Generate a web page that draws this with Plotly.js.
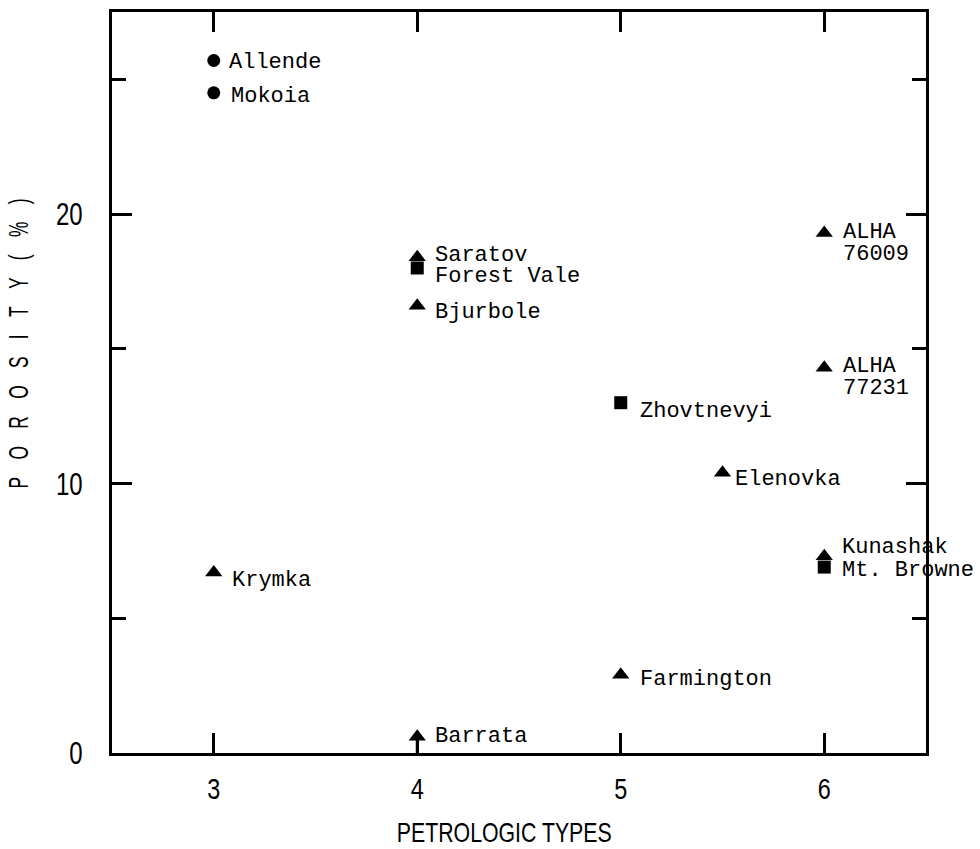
<!DOCTYPE html>
<html>
<head>
<meta charset="utf-8">
<script src="https://cdn.plot.ly/plotly-3.0.1.min.js"></script>
<style>
  html, body { margin: 0; padding: 0; background: #fff; }
  #chart { width: 980px; height: 849px; }
</style>
</head>
<body>
<div id="chart"></div>
<script>
// ---- data ----
const meteorites = ["Allende", "Mokoia", "Krymka", "Saratov", "Forest Vale", "Bjurbole", "Barrata",
                    "Zhovtnevyi", "Farmington", "Elenovka", "ALHA<br>76009", "ALHA<br>77231", "Kunashak", "Mt. Browne"];
const petrologicType = [3, 3, 3, 4, 4, 4, 4, 5, 5, 5.5, 6, 6, 6, 6];
const porosity = [25.7, 24.5, 6.7, 18.4, 18.0, 16.6, 0.6, 13.0, 2.9, 10.4, 19.3, 14.3, 7.3, 6.9];
const group = ["C", "C", "L", "L", "H", "L", "L", "H", "L", "L", "L", "L", "L", "H"];
const withStem = ["Barrata"];
const xTicks = [3, 4, 5, 6];
const yTicks = [0, 10, 20];

// ---- label placement styles (pixels) ----
const labelDx = [14, 16, 17, 17, 17, 17, 17, 18, 18, 11, 18, 18, 17, 17];
const labelDy = [2, 4, 8, -2, 9, 7, 0, 9, 5, 7, 0, -1, -9, 3];

const symbols = { C: "circle", L: "triangle-up", H: "square" };
const sizes = { C: 13, L: 15, H: 13 };
const traces = ["L", "H", "C"].map(g => {
  const idx = group.map((v, i) => v === g ? i : -1).filter(i => i >= 0);
  return {
    type: "scatter",
    mode: "markers",
    x: idx.map(i => petrologicType[i]),
    y: idx.map(i => porosity[i]),
    marker: { symbol: symbols[g], size: sizes[g], color: "#000", line: { width: 0 } },
    error_y: {
      type: "data", symmetric: false,
      array: idx.map(() => 0),
      arrayminus: idx.map(i => withStem.includes(meteorites[i]) ? porosity[i] : 0),
      color: "#000", thickness: 3, width: 0
    },
    hoverinfo: "skip",
    showlegend: false,
    cliponaxis: false
  };
});

const monoFont = { family: "'Liberation Mono', 'Courier New', monospace", size: 22, color: "#000" };
const sansFont = "'Liberation Sans', Arial, sans-serif";

const annotations = [];
meteorites.forEach((name, i) => {
  name.split("<br>").forEach((line, k) => {
    annotations.push({
      x: petrologicType[i], y: porosity[i], xref: "x", yref: "y",
      text: line, showarrow: false, xanchor: "left", yanchor: "middle",
      xshift: labelDx[i], yshift: -(labelDy[i] + k * 22),
      font: monoFont, borderpad: 0
    });
  });
});
const titleStart = annotations.length;
annotations.push({
  xref: "paper", yref: "paper", x: 0.4828, y: 0, yshift: -80,
  xanchor: "center", yanchor: "middle", showarrow: false, borderpad: 0,
  text: "PETROLOGIC TYPES", font: { family: sansFont, size: 27, color: "#000" }
});
annotations.push({
  xref: "paper", yref: "paper", x: 0, xshift: -93, y: 0.553,
  xanchor: "center", yanchor: "middle", showarrow: false, textangle: -90,
  text: "P\u2003O\u2003R\u2003O\u2003S\u2003I\u2003T\u2003Y\u2003(\u2003%\u2003)",
  font: { family: sansFont, size: 27, color: "#000" }
});

const layout = {
  width: 980, height: 849,
  margin: { l: 112, r: 54, t: 12, b: 96 },
  paper_bgcolor: "#fff", plot_bgcolor: "#fff",
  showlegend: false,
  xaxis: {
    range: [2.5, 6.5], tickvals: xTicks, ticktext: xTicks.map(String),
    showgrid: false, zeroline: false,
    showline: true, linecolor: "#000", linewidth: 3, mirror: "ticks",
    ticks: "inside", ticklen: 20, tickwidth: 3, tickcolor: "#000",
    ticklabelstandoff: 7,
    tickfont: { family: sansFont, size: 30, color: "#000" }
  },
  yaxis: {
    range: [0, 27.5], tickvals: yTicks, ticktext: yTicks.map(String),
    showgrid: false, zeroline: false,
    showline: true, linecolor: "#000", linewidth: 3, mirror: "ticks",
    ticks: "inside", ticklen: 20, tickwidth: 3, tickcolor: "#000",
    ticklabelstandoff: 20,
    minor: { tickvals: [5, 15, 25], ticks: "inside", ticklen: 14, tickwidth: 3, tickcolor: "#000", showgrid: false },
    tickfont: { family: sansFont, size: 32, color: "#000" }
  },
  annotations: annotations
};

// narrow the sans lettering horizontally, like the condensed type of the original
function squeeze(el, sx, mode) {
  const b = el.getBBox();
  const cx = mode === "end" ? b.x + b.width : b.x + b.width / 2;
  const cy = b.y + b.height / 2;
  const t = el.getAttribute("transform") || "";
  el.setAttribute("transform", `${t} translate(${cx},${cy}) scale(${sx},1) translate(${-cx},${-cy})`);
}

Plotly.newPlot("chart", traces, layout, { displayModeBar: false, staticPlot: true }).then(gd => {
  gd.querySelectorAll(".ytick text").forEach(el => squeeze(el, 0.75, "end"));
  gd.querySelectorAll(".xtick text").forEach(el => squeeze(el, 0.78, "middle"));
  const xt = gd.querySelector(`g.annotation[data-index="${titleStart}"] text`);
  if (xt) squeeze(xt, 215 / xt.getBBox().width, "middle");
  const yt = gd.querySelector(`g.annotation[data-index="${titleStart + 1}"] text`);
  if (yt) squeeze(yt, 290 / yt.getBBox().width, "middle");
});
</script>
</body>
</html>
